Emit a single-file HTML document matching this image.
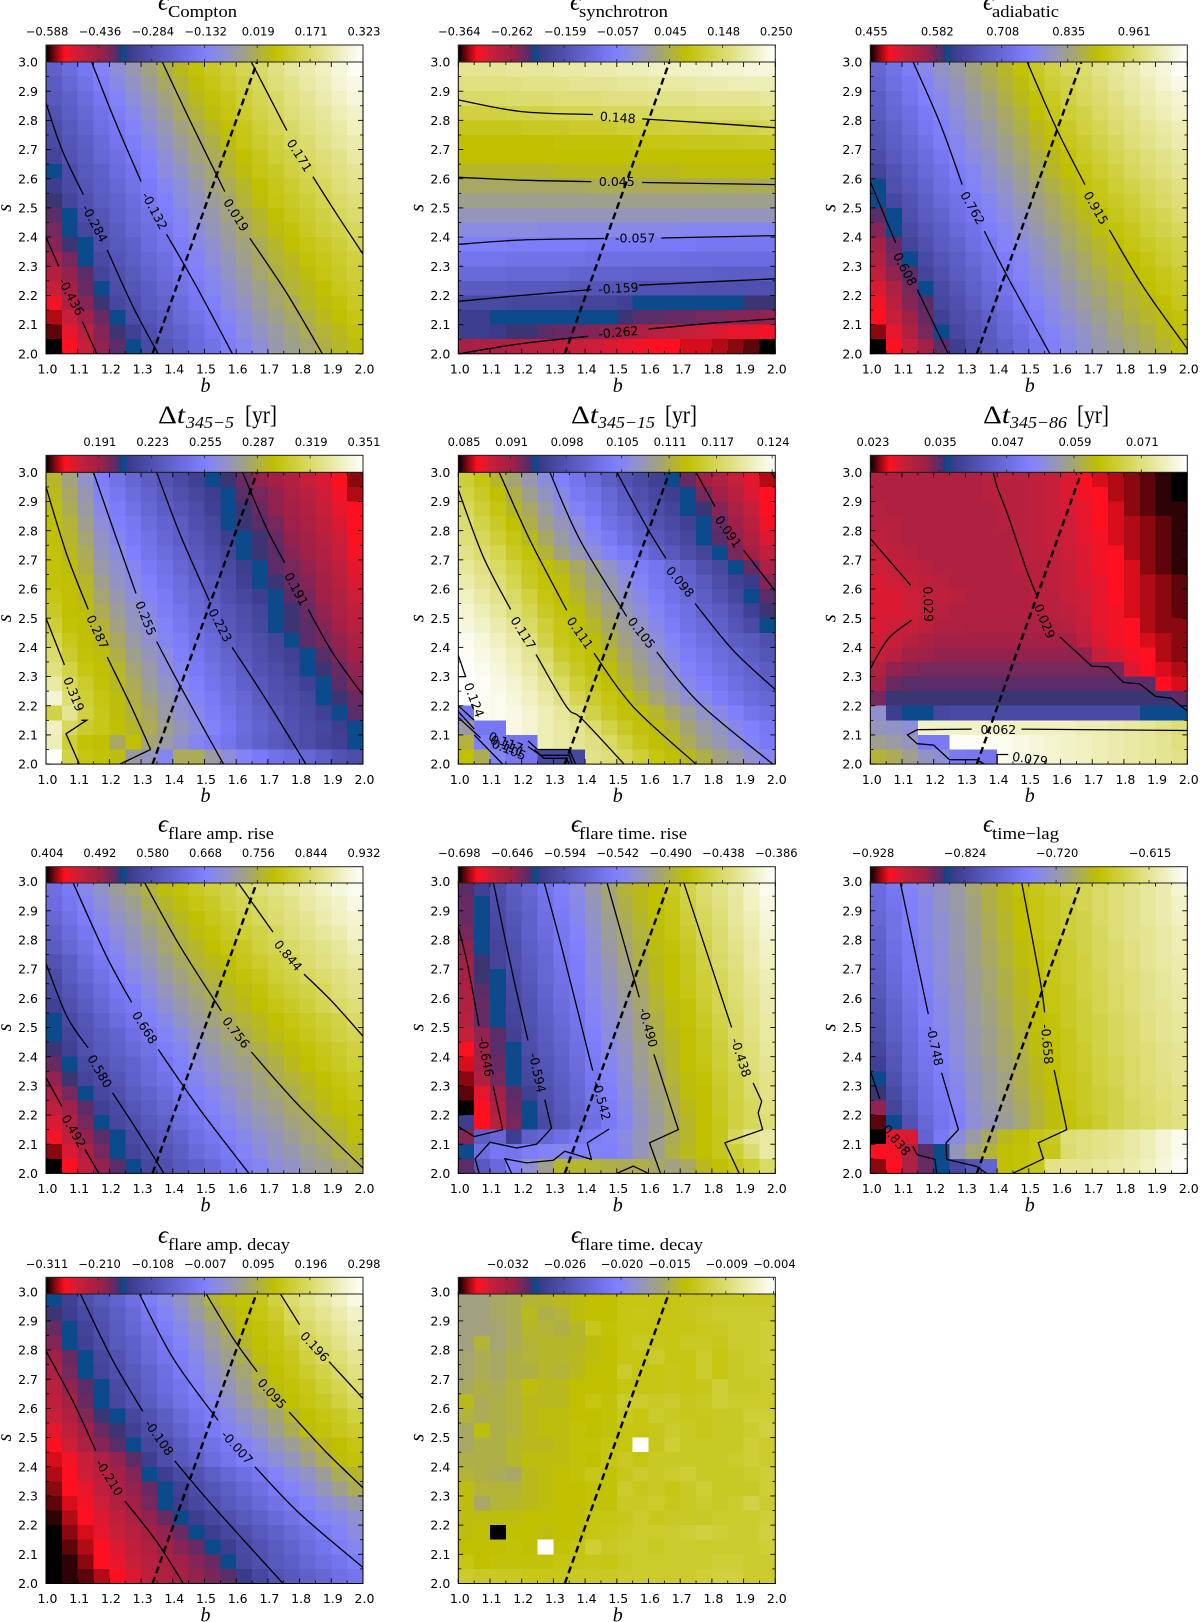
<!DOCTYPE html>
<html lang="en"><head><meta charset="utf-8"><title>Parameter space maps</title>
<style>
html,body{margin:0;padding:0;background:#fff}
svg{display:block}
text{font-family:"DejaVu Sans","Liberation Sans",sans-serif;fill:#000}
.serif{font-family:"Liberation Serif","DejaVu Serif",serif}
</style></head>
<body>
<svg id="chart" xmlns="http://www.w3.org/2000/svg" width="1200" height="1622" viewBox="0 0 1200 1622"><defs id="defs"></defs></svg>
<script>
// ---- shared axis values ----
const bCells=[1.0,1.05,1.1,1.15,1.2,1.25,1.3,1.35,1.4,1.45,1.5,1.55,1.6,1.65,1.7,1.75,1.8,1.85,1.9,1.95];
const sCells=[2.95,2.9,2.85,2.8,2.75,2.7,2.65,2.6,2.55,2.5,2.45,2.4,2.35,2.3,2.25,2.2,2.15,2.1,2.05,2.0];
const xMajorTicks=[1.0,1.1,1.2,1.3,1.4,1.5,1.6,1.7,1.8,1.9,2.0];
const yMajorTicks=[2.0,2.1,2.2,2.3,2.4,2.5,2.6,2.7,2.8,2.9,3.0];
const minorTicksB=[1.05,1.15,1.25,1.35,1.45,1.55,1.65,1.75,1.85,1.95];
const minorTicksS=[2.05,2.15,2.25,2.35,2.45,2.55,2.65,2.75,2.85,2.95];
const dashLineB=[1.336,1.666];
const dashLineS=[2.0,3.0];
const colormapStops=[[0,"#000000"],[0.03,"#8a0810"],[0.06,"#ff1020"],[0.1,"#cc1e38"],[0.14,"#b02040"],[0.17,"#a02048"],[0.22,"#5a2c68"],[0.235,"#2c3a78"],[0.24,"#0c4a8c"],[0.2499,"#0c4a8c"],[0.255,"#383a88"],[0.375,"#5c5cc4"],[0.5,"#8080ff"],[0.56,"#9090d0"],[0.625,"#a0a088"],[0.72,"#c0c000"],[0.86,"#e0e080"],[1,"#ffffff"]];

// ---- cell levels: percent of each panel's colourbar range, top row first ----
const comptonCells=[
[39,43,47,51,55,59,63,67,70,73,76,78,81,83,86,89,91,93,96,99],
[37,41,45,49,53,57,61,65,68,71,74,77,79,82,85,87,90,92,95,97],
[36,39,43,47,51,55,59,63,66,70,73,75,78,81,83,86,88,91,93,96],
[34,38,41,45,49,53,57,61,65,68,71,74,77,80,82,85,87,89,92,94],
[32,36,40,44,47,51,55,59,63,66,69,72,75,78,81,83,86,88,90,93],
[31,35,38,42,46,49,53,57,61,64,67,71,74,77,79,82,84,87,89,91],
[29,34,37,41,44,48,51,55,59,63,66,69,72,75,78,80,83,85,87,90],
[24,32,36,39,43,46,50,54,57,61,64,68,71,74,76,79,81,84,86,88],
[27,31,35,38,41,45,48,52,55,59,63,66,69,72,75,77,80,82,85,87],
[23,29,33,37,40,43,47,50,54,57,61,64,68,71,74,76,78,81,83,85],
[22,24,32,35,39,42,45,49,52,56,59,63,66,69,72,75,77,79,82,84],
[20,24,30,34,37,41,44,47,51,54,58,61,65,68,71,73,76,78,80,82],
[19,23,24,33,36,39,43,46,49,53,56,60,63,66,69,72,74,76,78,81],
[16,20,24,31,35,38,41,44,48,51,55,58,62,65,68,70,73,75,77,79],
[14,18,22,29,33,36,40,43,46,50,53,57,60,64,67,69,71,74,76,78],
[11,16,21,24,32,35,38,41,45,48,52,55,59,62,65,68,70,72,75,77],
[7,14,19,23,30,33,37,40,43,47,50,54,57,61,64,66,69,71,73,76],
[4,11,17,21,24,32,35,38,42,45,48,52,55,59,62,65,67,70,72,74],
[2,8,13,19,23,28,33,37,40,43,47,50,54,57,60,63,66,68,70,73],
[0,6,11,18,22,24,31,35,38,42,45,49,52,55,59,62,64,67,69,71]];
const synchrotronCells=[
[88,88,88,89,89,89,90,90,91,91,92,92,93,93,94,94,95,95,96,96],
[86,86,86,86,87,87,87,88,88,88,89,89,90,90,90,91,91,92,92,92],
[83,83,83,84,84,84,85,85,85,86,86,86,87,87,87,88,88,88,88,89],
[79,79,79,80,80,80,81,81,81,82,82,82,83,83,83,84,84,84,84,85],
[75,75,75,75,76,76,76,77,77,77,78,78,78,79,79,79,80,80,80,81],
[72,72,72,72,72,72,73,73,73,73,73,74,74,74,75,75,75,75,76,76],
[72,72,72,72,72,72,72,72,72,72,72,72,72,72,72,72,72,72,72,72],
[69,69,69,69,69,69,70,70,70,70,70,70,70,70,71,71,71,71,71,71],
[65,65,65,65,65,65,65,65,66,66,66,66,66,66,66,66,66,66,66,66],
[62,62,62,62,62,62,62,62,62,62,62,62,62,62,62,62,62,62,62,62],
[58,58,58,58,58,58,58,58,58,58,58,58,58,58,58,58,58,58,58,58],
[54,54,54,54,54,53,53,53,53,53,53,53,53,53,52,52,52,52,52,52],
[50,50,50,49,49,49,49,49,48,48,48,48,48,48,48,47,47,47,47,47],
[46,46,46,45,45,45,45,45,44,44,44,44,44,44,43,43,43,43,43,43],
[42,42,42,41,41,41,41,40,40,40,40,39,39,39,39,39,38,38,38,38],
[37,37,37,36,36,36,36,35,35,35,35,34,34,34,34,33,33,33,33,33],
[31,31,31,30,30,30,30,29,29,29,28,24,24,24,24,24,24,24,23,23],
[27,27,24,24,24,24,24,24,24,24,23,22,22,21,21,20,20,19,19,18],
[27,27,26,23,23,22,21,20,19,18,16,15,13,12,11,10,9,8,8,7],
[16,15,15,14,13,13,12,11,10,9,8,7,6,6,5,5,4,3,2,0]];
const adiabaticCells=[
[41,45,49,53,57,60,63,66,69,73,76,79,82,84,87,89,91,94,96,99],
[40,44,47,51,55,58,62,65,68,71,75,78,80,83,85,88,90,92,95,97],
[38,42,46,50,53,57,60,63,67,70,73,76,79,82,84,86,89,91,93,95],
[37,41,44,48,52,55,59,62,65,68,72,75,78,80,83,85,87,90,92,94],
[35,39,43,47,50,54,57,60,64,67,70,73,76,79,81,84,86,88,90,92],
[34,38,41,45,49,52,56,59,62,65,69,72,75,77,80,82,85,87,89,91],
[32,36,40,43,47,51,54,57,61,64,67,70,73,76,78,81,83,85,87,89],
[29,34,38,42,45,49,52,56,59,62,66,69,72,74,77,79,82,84,86,88],
[24,33,36,40,44,47,51,54,57,61,64,67,70,73,75,78,80,82,84,86],
[24,30,34,38,42,45,49,52,56,59,62,65,68,71,74,76,78,81,83,85],
[22,24,33,37,40,44,47,51,54,57,61,64,67,70,72,75,77,79,81,84],
[19,24,31,35,38,42,45,49,52,56,59,62,65,68,71,73,75,78,80,82],
[16,21,29,33,37,40,44,47,51,54,57,60,64,67,69,72,74,76,78,80],
[14,20,24,31,35,38,42,45,49,52,56,59,62,65,68,70,72,74,77,79],
[12,18,22,29,33,37,40,44,47,51,54,57,61,64,66,69,71,73,75,77],
[9,15,20,24,31,35,39,42,46,49,53,56,59,62,65,67,69,72,74,76],
[7,13,19,22,30,33,37,41,44,48,51,54,58,61,63,66,68,70,72,75],
[6,11,17,21,28,32,35,39,42,46,49,53,56,59,62,64,67,69,71,73],
[3,8,14,20,24,30,34,37,41,44,48,51,54,57,60,63,65,67,70,72],
[0,6,11,17,22,27,32,36,39,43,46,50,53,56,59,61,64,66,68,71]];
const lag345to5Cells=[
[69,63,57,49,45,41,38,34,31,28,24,23,21,18,16,14,11,9,6,3],
[70,65,59,51,47,43,40,36,33,30,27,24,22,20,18,15,13,10,7,4],
[71,66,60,53,49,45,41,38,35,32,28,24,23,21,18,16,14,11,8,6],
[72,68,62,55,50,47,43,40,37,33,30,24,23,22,20,17,15,12,9,6],
[72,69,64,57,52,48,45,41,38,35,31,27,24,23,21,18,16,13,10,6],
[73,70,66,58,54,50,46,43,40,36,33,29,24,23,22,19,17,14,11,7],
[73,71,67,60,56,52,48,45,41,38,34,31,27,24,22,20,18,15,12,8],
[73,72,69,62,57,53,50,46,43,39,36,32,28,24,23,21,19,16,13,9],
[74,72,70,64,59,55,51,48,44,41,37,33,30,27,24,22,20,17,14,10],
[76,72,71,66,61,57,53,49,46,42,39,35,32,29,24,23,21,18,15,12],
[78,73,72,68,63,58,54,51,47,44,40,36,33,30,24,23,22,19,16,13],
[81,75,72,70,65,60,56,52,49,45,42,38,35,32,29,24,22,20,18,15],
[84,77,73,71,67,62,58,54,50,47,43,40,36,33,30,28,24,22,19,16],
[86,80,74,72,69,64,60,55,52,48,45,41,38,34,32,29,24,23,21,18],
[90,82,77,73,70,66,61,57,53,50,46,43,39,36,33,31,28,24,22,19],
[95,85,78,74,71,67,63,59,55,51,48,44,41,37,34,32,30,24,23,21],
[80,88,79,75,71,68,65,60,56,53,49,46,42,39,36,33,31,28,24,22],
[93,82,77,75,72,69,66,62,58,54,51,47,43,40,37,34,32,30,27,24],
[92,78,73,72,65,72,64,60,56,52,49,46,42,39,36,34,32,29,28,24],
[100,80,74,73,71,60,58,52,66,66,60,55,51,48,45,43,41,38,34,32]];
const lag345to15Cells=[
[78,74,69,64,59,54,50,46,42,38,34,31,28,24,21,17,14,11,8,4],
[80,76,72,67,62,57,53,48,45,41,37,33,30,27,24,20,17,13,9,6],
[82,78,74,69,65,60,55,51,47,43,39,35,32,29,24,23,19,15,11,6],
[84,80,76,72,67,62,58,54,50,45,42,38,34,31,28,24,21,17,13,7],
[85,82,78,74,70,65,60,56,52,48,44,40,36,33,30,24,22,18,14,9],
[87,84,81,76,73,68,63,59,55,51,48,44,40,36,32,29,24,20,16,12],
[89,86,83,79,75,72,69,65,61,57,53,49,46,42,38,33,30,24,21,15],
[91,88,85,81,76,73,71,67,63,59,55,51,47,44,40,36,32,28,26,19],
[93,90,87,83,79,74,72,69,65,61,57,53,49,45,42,38,34,30,24,22],
[95,92,89,85,81,76,73,71,67,63,59,55,51,47,44,40,37,33,28,23],
[96,94,91,88,83,78,74,72,69,65,61,57,53,49,45,42,39,35,31,24],
[98,96,93,90,86,80,75,73,71,67,63,59,55,51,47,44,41,38,36,33],
[99,97,95,92,88,83,77,74,72,69,65,61,57,53,49,46,43,41,38,35],
[100,98,96,93,90,85,80,76,73,71,67,63,59,55,51,48,45,42,40,37],
[100,99,97,95,92,88,83,78,75,72,69,65,61,57,53,50,47,44,41,39],
[100,99,98,96,93,90,86,81,77,74,72,68,64,60,56,53,49,46,43,41],
[47,99,98,97,95,92,89,85,80,76,73,72,69,65,61,57,53,50,46,44],
[60,47,47,97,95,92,90,88,84,80,76,73,71,68,64,60,57,53,50,47],
[68,50,47,46,46,92,90,88,86,83,79,75,72,70,66,62,59,55,51,48],
[72,66,52,47,46,30,30,30,87,85,82,78,74,72,70,67,63,60,56,52]];
const lag345to86Cells=[
[14,14,14,14,14,14,14,13,13,13,12,11,9,6,5,4,3,2,1,0],
[14,14,14,14,14,14,14,13,13,13,12,11,9,7,6,4,3,2,1,0],
[13,14,14,14,14,14,14,14,13,13,12,11,9,8,6,5,3,2,1,1],
[13,13,14,14,14,14,14,14,13,13,12,11,10,8,6,5,4,3,2,1],
[12,13,14,14,14,14,14,14,14,13,12,11,10,8,7,5,4,3,2,1],
[11,12,13,14,14,14,14,14,14,13,12,12,10,9,7,6,4,3,2,1],
[10,11,12,13,14,14,14,14,14,13,13,12,11,9,7,6,5,3,2,1],
[9,10,11,12,13,14,14,14,14,14,13,12,11,9,8,6,5,4,3,2],
[9,9,10,11,12,13,14,14,14,14,13,13,11,10,8,6,5,4,3,2],
[9,9,10,11,13,14,14,14,14,14,14,13,12,10,8,7,5,4,3,2],
[9,10,11,12,14,14,15,15,15,15,15,14,13,11,8,7,6,4,3,3],
[10,11,13,15,16,16,16,16,16,16,16,16,16,12,9,7,6,5,4,3],
[11,13,16,17,18,18,18,18,18,18,18,18,18,18,11,9,7,6,4,3],
[14,18,19,20,20,20,20,20,20,20,20,20,20,20,20,20,9,6,5,4],
[16,21,22,22,22,22,22,22,22,22,22,22,22,22,22,22,22,22,6,5],
[20,23,23,23,23,23,23,23,23,23,23,23,23,23,23,23,23,23,23,22],
[56,27,25,24,30,31,31,31,31,31,31,31,31,31,31,31,31,24,24,24],
[58,57,55,94,94,94,94,94,94,93,93,93,93,92,92,91,90,89,87,85],
[62,60,58,48,48,99,99,98,98,97,96,95,94,93,92,91,90,89,88,86],
[68,66,62,57,55,48,47,46,98,97,96,95,94,93,92,91,90,89,88,87]];
const ampRiseCells=[
[44,48,53,57,61,64,68,71,73,76,78,80,83,85,87,89,91,94,96,98],
[43,47,51,55,59,62,66,69,71,74,76,79,81,83,85,87,90,92,94,97],
[41,45,49,53,57,60,64,67,70,72,75,77,80,82,84,86,88,91,93,95],
[39,43,47,51,55,58,62,65,68,71,73,76,78,80,82,85,87,89,91,94],
[37,41,45,49,53,57,60,64,67,69,72,74,76,79,81,83,85,87,89,92],
[34,38,43,47,51,55,58,62,65,68,70,72,75,77,79,81,84,86,88,90],
[32,37,41,45,49,53,56,60,63,66,68,71,73,75,78,80,82,84,86,88],
[31,35,39,43,47,50,54,58,61,64,67,69,71,73,76,78,80,82,85,87],
[28,33,37,41,45,48,52,56,59,62,65,68,70,72,74,76,78,81,83,85],
[24,31,35,39,43,46,50,53,57,60,63,66,68,70,72,74,76,78,80,83],
[24,29,34,37,40,44,47,51,54,58,61,64,66,69,71,73,75,77,79,81],
[23,28,33,36,39,42,45,49,52,56,59,62,64,67,69,71,73,75,77,79],
[21,24,31,34,37,40,43,47,50,54,57,60,62,65,67,70,72,74,76,78],
[18,23,29,32,35,39,42,45,49,52,55,58,60,63,66,68,70,72,74,76],
[15,20,24,30,33,37,40,43,47,50,53,56,59,62,64,66,69,71,73,75],
[12,17,22,28,31,35,38,41,45,48,51,54,57,60,62,65,67,70,72,73],
[9,14,20,24,30,33,36,39,43,46,49,52,55,58,60,63,65,68,70,72],
[7,12,18,22,24,31,34,37,40,44,47,50,53,56,58,61,64,66,68,71],
[3,9,15,20,24,29,32,35,38,42,45,48,51,54,57,59,62,64,67,69],
[0,6,12,18,22,24,30,33,36,39,42,46,49,52,55,57,60,62,64,66]];
const timeRiseCells=[
[22,28,33,37,41,46,50,54,59,64,68,70,72,76,80,84,87,90,94,98],
[21,24,32,36,40,45,49,53,58,63,67,70,72,75,79,83,86,89,93,97],
[21,24,31,35,39,44,48,52,57,62,66,69,72,74,78,82,85,89,92,96],
[20,24,30,34,39,43,47,51,56,61,65,68,71,74,77,81,84,88,91,95],
[18,24,29,33,38,42,47,50,55,60,64,67,71,73,76,80,84,87,90,94],
[17,23,29,33,37,41,46,49,54,59,63,67,70,72,75,79,83,86,90,93],
[16,23,24,32,36,41,45,49,54,58,62,66,70,72,75,78,82,85,89,92],
[15,22,24,31,35,40,44,48,53,57,61,65,69,72,74,78,81,85,88,91],
[14,21,24,30,34,39,43,47,52,56,60,64,68,71,73,77,81,84,87,91],
[13,21,24,29,34,38,42,46,51,55,59,63,67,71,73,76,80,83,87,90],
[11,18,22,28,33,37,41,45,50,54,58,63,67,70,72,75,79,83,86,90],
[6,17,22,24,32,36,40,44,49,53,57,62,66,69,72,75,78,82,85,89],
[5,16,21,24,31,35,39,43,48,52,56,61,65,69,72,74,78,81,85,88],
[3,14,20,24,30,34,38,42,47,51,55,60,64,68,71,73,77,80,84,87],
[2,8,17,22,28,33,37,41,46,50,54,59,63,67,71,72,76,80,83,87],
[0,6,15,21,24,32,36,40,45,49,53,58,62,66,70,72,76,79,82,86],
[27,6,13,20,24,31,35,39,44,48,52,57,61,65,69,72,75,79,82,85],
[19,38,41,27,39,41,44,47,49,51,54,58,62,66,69,72,75,82,88,90],
[24,43,47,46,49,51,52,50,51,50,53,58,62,67,70,72,75,78,84,90],
[22,36,42,50,56,62,69,69,68,67,66,67,65,63,65,70,72,75,78,83]];
const timeLagCells=[
[43,47,51,54,57,60,64,67,70,73,75,77,79,81,83,85,87,89,91,95],
[42,46,50,53,57,60,63,67,70,72,74,76,78,81,83,85,87,89,91,94],
[41,45,50,53,56,59,63,66,69,72,74,76,78,80,83,85,87,89,91,93],
[40,45,49,53,56,59,62,66,69,72,74,76,78,80,82,85,87,88,90,92],
[39,44,48,52,55,59,62,65,68,71,73,75,77,80,82,84,86,88,90,92],
[38,43,48,52,55,58,62,65,68,71,73,75,77,79,82,84,86,88,90,91],
[37,42,47,51,55,58,61,64,67,70,72,75,77,79,81,84,85,87,89,91],
[36,41,46,50,54,57,61,64,67,70,72,74,76,79,81,83,85,87,89,90],
[34,40,45,49,53,57,60,63,66,69,72,74,76,78,81,83,85,87,88,90],
[33,39,44,49,53,56,60,63,66,69,72,73,76,78,80,82,84,86,88,89],
[32,38,43,48,52,56,59,62,65,68,71,73,75,78,80,82,84,86,88,89],
[30,36,42,47,51,55,59,62,65,68,71,73,75,77,80,82,84,85,87,88],
[28,35,41,46,50,54,58,61,64,67,70,72,75,77,79,81,83,85,87,88],
[24,33,40,45,49,53,57,60,63,67,70,72,74,76,79,81,83,85,86,88],
[23,31,38,44,48,52,57,60,63,66,69,72,74,76,78,80,83,84,86,87],
[18,29,36,43,47,51,56,59,62,65,68,71,73,76,78,80,82,84,85,87],
[2,24,34,41,46,50,55,58,61,64,68,71,73,75,77,80,82,83,85,86],
[0,8,9,40,48,54,60,65,70,72,74,76,85,86,87,88,90,92,95,98],
[6,7,14,22,24,58,64,68,72,73,74,75,84,86,87,88,90,92,95,98],
[3,6,15,21,24,30,35,40,72,73,75,87,88,88,89,90,91,93,96,99]];
const ampDecayCells=[
[25,28,33,36,40,44,49,53,57,62,68,71,73,75,79,84,87,90,93,97],
[23,27,31,34,38,42,47,51,55,60,65,69,72,74,77,82,85,88,91,94],
[21,24,29,33,37,41,45,49,53,57,62,67,71,73,75,80,83,86,89,92],
[19,24,28,32,36,39,43,47,51,55,60,64,69,72,74,77,81,84,87,90],
[17,21,24,30,34,38,42,46,49,53,58,62,66,71,73,75,79,82,85,88],
[15,20,24,29,33,36,40,44,48,52,56,60,64,68,72,74,77,80,83,86],
[13,18,22,24,31,35,39,43,46,50,54,58,62,66,71,73,75,78,81,84],
[12,16,21,24,30,34,37,41,45,48,52,56,60,64,69,72,74,76,79,82],
[11,14,19,23,24,30,34,38,42,46,49,53,57,60,64,69,72,74,76,79],
[8,12,17,21,23,28,32,36,40,44,48,51,54,58,62,66,71,73,75,77],
[6,10,15,19,22,24,30,33,37,41,45,48,51,54,58,61,65,70,72,74],
[5,7,11,15,18,22,27,32,36,39,43,46,49,52,55,58,62,66,71,73],
[4,6,10,13,16,19,24,27,31,34,38,41,44,47,51,54,57,61,66,69],
[3,6,8,12,15,18,21,24,28,32,35,38,41,44,48,51,54,58,62,66],
[2,5,7,10,14,17,20,24,27,30,33,36,39,42,45,48,51,54,57,60],
[1,4,6,9,12,15,18,21,24,27,30,33,36,39,42,45,48,51,53,56],
[0,3,5,8,11,13,16,18,21,24,27,30,33,36,39,42,45,48,51,54],
[0,2,4,6,9,12,14,17,19,21,24,27,31,34,37,40,43,46,49,52],
[0,1,3,6,8,11,13,15,17,19,21,24,30,33,36,38,41,44,46,49],
[0,1,2,4,6,9,12,14,16,18,20,22,26,30,34,36,39,41,44,46]];
const timeDecayCells=[
[63,63,65,66,68,69,70,71,72,72,74,74,74,74,75,75,76,76,76,76],
[63,63,65,66,70,67,68,71,72,72,74,75,74,74,75,76,77,77,77,77],
[63,63,64,66,69,68,67,69,75,73,74,74,74,74,74,75,76,77,77,78],
[63,68,64,66,68,69,69,69,71,72,74,76,75,74,76,76,75,77,77,78],
[64,66,65,67,68,69,69,70,71,72,74,74,77,74,74,77,74,76,77,78],
[64,66,65,67,67,69,68,70,72,72,77,74,74,75,74,77,74,76,77,77],
[65,67,66,68,71,70,70,72,72,72,74,74,74,75,74,75,78,76,76,77],
[70,66,67,68,70,70,70,72,74,73,77,77,76,77,75,76,78,77,77,77],
[68,66,67,68,70,71,71,72,72,73,76,74,77,76,75,75,76,76,78,78],
[65,71,67,68,70,71,71,73,72,73,74,74,75,77,76,75,76,76,77,79],
[65,67,67,69,70,70,71,73,73,74,74,100,75,78,76,76,76,76,78,77],
[67,67,67,69,71,71,71,73,72,74,76,74,76,76,76,76,76,77,78,77],
[68,67,66,65,70,71,72,73,75,73,75,77,76,77,78,76,76,76,77,78],
[71,68,68,68,70,71,72,72,73,73,77,75,76,74,76,78,76,76,76,78],
[71,65,68,69,70,71,72,72,73,73,76,76,77,75,76,77,76,77,80,77],
[71,71,71,71,72,72,72,72,74,74,75,77,75,76,76,76,77,77,77,78],
[71,72,0,72,72,71,72,72,74,75,76,77,77,77,78,79,78,77,77,79],
[72,72,72,73,72,100,73,74,78,76,77,77,76,77,77,77,77,77,77,78],
[74,72,73,73,73,73,74,74,75,74,76,77,77,77,77,77,78,78,77,77],
[77,76,76,76,75,75,75,76,76,76,77,77,77,77,77,78,79,79,77,77]];

// ---- colourbar ranges and tick labels ----
const comptonRange=[-0.588,0.323];
const comptonTicks=["−0.588","−0.436","−0.284","−0.132","0.019","0.171","0.323"];
const synchrotronRange=[-0.364,0.250];
const synchrotronTicks=["−0.364","−0.262","−0.159","−0.057","0.045","0.148","0.250"];
const adiabaticRange=[0.455,1.065];
const adiabaticTicks=["0.455","0.582","0.708","0.835","0.961"];
const lag345to5Range=[0.159,0.351];
const lag345to5Ticks=["0.191","0.223","0.255","0.287","0.319","0.351"];
const lag345to15Range=[0.0844,0.1244];
const lag345to15Ticks=["0.085","0.091","0.098","0.105","0.111","0.117","0.124"];
const lag345to86Range=[0.0227,0.0792];
const lag345to86Ticks=["0.023","0.035","0.047","0.059","0.071"];
const ampRiseRange=[0.404,0.932];
const ampRiseTicks=["0.404","0.492","0.580","0.668","0.756","0.844","0.932"];
const timeRiseRange=[-0.698,-0.386];
const timeRiseTicks=["−0.698","−0.646","−0.594","−0.542","−0.490","−0.438","−0.386"];
const timeLagRange=[-0.93,-0.5717];
const timeLagTicks=["−0.928","−0.824","−0.720","−0.615"];
const ampDecayRange=[-0.311,0.298];
const ampDecayTicks=["−0.311","−0.210","−0.108","−0.007","0.095","0.196","0.298"];
const timeDecayRange=[-0.0371,-0.0038];
const timeDecayTicks=["−0.032","−0.026","−0.020","−0.015","−0.009","−0.004"];

// ---- contour polylines in (b,s) and labels [text,b,s,angle] ----
const comptonLines=[
[[1,2.4],[1.04,2.3]],[[1.115,2.11],[1.16,2]],
[[1,2.86],[1.05,2.7],[1.118,2.545]],[[1.193,2.356],[1.275,2.16],[1.354,2]],
[[1.144,3],[1.217,2.8],[1.3,2.59]],[[1.38,2.41],[1.475,2.23],[1.588,2]],
[[1.367,3],[1.454,2.8],[1.564,2.556]],[[1.643,2.396],[1.758,2.21],[1.872,2]],
[[1.648,3],[1.76,2.765]],[[1.842,2.607],[1.916,2.48],[2,2.342]]];
const comptonLabels=[["-0.436",1.08,2.196,62],["-0.284",1.154,2.447,62],["-0.132",1.343,2.49,62],["0.019",1.6,2.476,58],["0.171",1.8,2.68,58]];
const synchrotronLines=[
[[1,2.87],[1.2,2.83],[1.425,2.82]],[[1.58,2.805],[1.8,2.79],[2,2.775]],
[[1,2.605],[1.2,2.595],[1.42,2.59]],[[1.58,2.587],[2,2.58]],
[[1,2.375],[1.2,2.39],[1.46,2.395]],[[1.64,2.397],[2,2.405]],
[[1,2.18],[1.2,2.2],[1.42,2.22]],[[1.57,2.235],[1.8,2.247],[2,2.257]],
[[1,2],[1.2,2.035],[1.41,2.06]],[[1.6,2.085],[1.8,2.105],[2,2.12]]];
const synchrotronLabels=[["0.148",1.503,2.81,4],["0.045",1.5,2.59,0],["-0.057",1.558,2.396,0],["-0.159",1.505,2.225,-3],["-0.262",1.505,2.074,-5]];
const adiabaticLines=[
[[1,2.59],[1.08,2.38]],[[1.148,2.22],[1.246,2]],
[[1.135,3],[1.22,2.79],[1.29,2.58]],[[1.36,2.42],[1.43,2.27],[1.567,2]],
[[1.495,3],[1.588,2.77],[1.677,2.58]],[[1.754,2.425],[1.861,2.23],[2,2.017]]];
const adiabaticLabels=[["0.608",1.11,2.29,62],["0.762",1.323,2.5,60],["0.915",1.712,2.5,60]];
const lag345to5Lines=[
[[1,2.5],[1.058,2.34]],[[1.112,2.15],[1.128,2.15],[1.063,2.104],[1.105,2]],
[[1,2.95],[1.065,2.72],[1.133,2.53]],[[1.193,2.367],[1.27,2.195],[1.33,2.05]],[[1.33,2.05],[1.233,2]],
[[1.15,3],[1.217,2.79],[1.284,2.585]],[[1.349,2.42],[1.422,2.27],[1.56,2]],
[[1.349,3],[1.422,2.79],[1.515,2.56]],[[1.587,2.4],[1.695,2.22],[1.82,2]],
[[1.62,3],[1.695,2.81],[1.753,2.69]],[[1.827,2.53],[1.905,2.38],[2,2.236]]];
const lag345to5Labels=[["0.319",1.088,2.24,68],["0.287",1.163,2.453,65],["0.255",1.315,2.5,68],["0.223",1.55,2.476,62],["0.191",1.79,2.6,62]];
const lag345to15Lines=[
[[1,2.373],[1.023,2.3],[1,2.3]],
[[1,2.2],[1.05,2.15]],[[1,2.18],[1.05,2.12]],[[1,2.16],[1.07,2.09]],[[1.05,2.1],[1.14,2]],
[[1.22,2.08],[1.25,2.05],[1.35,2.05],[1.37,2]],[[1.22,2.06],[1.26,2.03],[1.35,2.03],[1.36,2]],[[1.24,2.05],[1.27,2.02],[1.34,2.02],[1.35,2]],
[[1,2.94],[1.079,2.71],[1.165,2.53]],[[1.245,2.376],[1.342,2.196],[1.389,2.156],[1.523,2]],
[[1.129,3],[1.226,2.768],[1.342,2.527]],[[1.428,2.38],[1.552,2.196],[1.75,2]],
[[1.289,3],[1.384,2.768],[1.531,2.506]],[[1.626,2.384],[1.762,2.207],[1.992,2]],
[[1.5,3],[1.594,2.813],[1.655,2.705]],[[1.747,2.55],[1.867,2.39],[2,2.255]],
[[1.75,3],[1.81,2.882]],[[1.9,2.733],[2,2.593]],[[1.988,3],[2,2.977]]];
const lag345to15Labels=[["0.124",1.05,2.22,70],["0.117",1.15,2.075,22],["0.111",1.155,2.062,24],["0.105",1.16,2.05,22],["0.117",1.205,2.45,58],["0.111",1.384,2.45,55],["0.105",1.578,2.45,52],["0.098",1.7,2.625,50],["0.091",1.852,2.797,55]];
const lag345to86Lines=[
[[1,2.773],[1.127,2.613]],[[1.13,2.493],[1.057,2.43],[1,2.327]],
[[1.388,3],[1.4,2.95],[1.435,2.85],[1.493,2.665],[1.527,2.573]],
[[1.598,2.436],[1.65,2.384],[1.698,2.336],[1.75,2.333],[1.798,2.28],[1.85,2.275],[1.9,2.232],[1.95,2.226],[2,2.182]],
[[1.32,2.12],[1.148,2.118],[1.117,2.1],[1.148,2.07],[1.2,2.065],[1.25,2.015],[1.335,2.015],[1.36,2]],
[[1.477,2.12],[2,2.115]],[[1.4,2],[1.4,2.033],[1.435,2.033]]];
const lag345to86Labels=[["0.029",1.183,2.548,88],["0.029",1.55,2.49,68],["0.062",1.404,2.118,0],["0.079",1.504,2.018,8]];
const ampRiseLines=[
[[1,2.328],[1.05,2.23]],[[1.123,2.082],[1.167,2]],
[[1,2.72],[1.065,2.54],[1.133,2.43]],[[1.21,2.276],[1.296,2.133],[1.372,2]],
[[1.084,3],[1.19,2.746],[1.27,2.586]],[[1.354,2.425],[1.485,2.22],[1.64,2]],
[[1.309,3],[1.422,2.78],[1.553,2.557]],[[1.648,2.416],[1.8,2.23],[2,2.018]],
[[1.603,3],[1.716,2.827]],[[1.814,2.683],[1.905,2.586],[2,2.47]]];
const ampRiseLabels=[["0.492",1.088,2.145,60],["0.580",1.17,2.35,60],["0.668",1.312,2.5,58],["0.756",1.6,2.483,52],["0.844",1.764,2.747,50]];
const timeRiseLines=[
[[1,2.844],[1.03,2.712],[1.065,2.506]],[[1.11,2.3],[1.14,2.15],[1.05,2.126],[1,2.16]],
[[1.11,3],[1.17,2.69],[1.22,2.455]],[[1.273,2.253],[1.294,2.155],[1.247,2.1],[1.184,2.087],[1.1,2.107],[1.053,2.05],[1.066,2]],
[[1.27,3],[1.33,2.758],[1.424,2.352]],[[1.476,2.152],[1.407,2.105],[1.42,2.048],[1.384,2.06],[1.336,2.076],[1.3,2.045],[1.215,2.036],[1.147,2.05],[1.168,2]],
[[1.468,3],[1.571,2.603]],[[1.617,2.408],[1.694,2.15],[1.603,2.105],[1.638,2]],
[[1.5,2],[1.552,2.025],[1.6,2]],
[[1.71,3],[1.862,2.5]],[[1.93,2.31],[1.957,2.247],[1.946,2.207],[1.96,2.15],[1.841,2.105],[1.886,2]]];
const timeRiseLabels=[["-0.646",1.087,2.4,80],["-0.594",1.25,2.345,78],["-0.542",1.452,2.25,75],["-0.490",1.6,2.5,75],["-0.438",1.892,2.397,72]];
const timeLagLines=[
[[1.094,3],[1.183,2.546]],[[1.225,2.345],[1.278,2.15],[1.239,2.105],[1.241,2.048],[1.335,2.024],[1.367,2]],
[[1.477,3],[1.535,2.666],[1.55,2.552]],[[1.58,2.354],[1.62,2.15],[1.53,2.105],[1.546,2.05],[1.449,2]],
[[1,2.352],[1.03,2.255]],[[1.134,2.093],[1.148,2.064],[1.204,2.048],[1.209,2]]];
const timeLagLabels=[["-0.748",1.204,2.437,78],["-0.658",1.558,2.443,85],["-0.838",1.078,2.12,50]];
const ampDecayLines=[
[[1,2.797],[1.086,2.622],[1.157,2.455]],[[1.249,2.282],[1.349,2.144],[1.433,2]],
[[1.105,3],[1.207,2.772],[1.305,2.59]],[[1.406,2.42],[1.527,2.265],[1.748,2]],
[[1.291,3],[1.401,2.772],[1.543,2.559]],[[1.659,2.4],[1.8,2.24],[2,2.055]],
[[1.501,3],[1.59,2.841],[1.666,2.726]],[[1.767,2.588],[1.885,2.449],[2,2.328]],
[[1.735,3],[1.8,2.887]],[[1.893,2.76],[2,2.634]]];
const ampDecayLabels=[["-0.210",1.2,2.363,58],["-0.108",1.357,2.5,55],["-0.007",1.603,2.467,48],["0.095",1.713,2.651,48],["0.196",1.848,2.812,47]];
const timeDecayLines=[];
const timeDecayLabels=[];

// ---- panel layout ----
const columnLeft=[46,458.3,870.3];
const rowTop=[62,472.3,881.6,1291.7];
const barTop=[45,455.3,866.7,1277.3];
const barBottom=[62,472.3,883,1294];
const titleBase=[10,423,832,1243];
const axisW=317, axisH=291.8;
const panels=[
{key:"compton",r:0,c:0,cells:comptonCells,range:comptonRange,ticks:comptonTicks,lines:comptonLines,labels:comptonLabels,sub:"Compton",mx:158,sx:168,sw:69},
{key:"synchrotron",r:0,c:1,cells:synchrotronCells,range:synchrotronRange,ticks:synchrotronTicks,lines:synchrotronLines,labels:synchrotronLabels,sub:"synchrotron",mx:570,sx:579,sw:89},
{key:"adiabatic",r:0,c:2,cells:adiabaticCells,range:adiabaticRange,ticks:adiabaticTicks,lines:adiabaticLines,labels:adiabaticLabels,sub:"adiabatic",mx:983,sx:992,sw:67},
{key:"delta-t-345-5",r:1,c:0,cells:lag345to5Cells,range:lag345to5Range,ticks:lag345to5Ticks,lines:lag345to5Lines,labels:lag345to5Labels,sub:"345−5",dt:true,mx:158,sx:186,sw:48,yx:245,yw:32},
{key:"delta-t-345-15",r:1,c:1,cells:lag345to15Cells,range:lag345to15Range,ticks:lag345to15Ticks,lines:lag345to15Lines,labels:lag345to15Labels,sub:"345−15",dt:true,mx:571,sx:598,sw:57,yx:665,yw:32},
{key:"delta-t-345-86",r:1,c:2,cells:lag345to86Cells,range:lag345to86Range,ticks:lag345to86Ticks,lines:lag345to86Lines,labels:lag345to86Labels,sub:"345−86",dt:true,mx:983,sx:1010,sw:57,yx:1077,yw:32},
{key:"flare-amp-rise",r:2,c:0,cells:ampRiseCells,range:ampRiseRange,ticks:ampRiseTicks,lines:ampRiseLines,labels:ampRiseLabels,sub:"flare amp. rise",mx:158,sx:168,sw:106},
{key:"flare-time-rise",r:2,c:1,cells:timeRiseCells,range:timeRiseRange,ticks:timeRiseTicks,lines:timeRiseLines,labels:timeRiseLabels,sub:"flare time. rise",mx:571,sx:579,sw:108},
{key:"time-lag",r:2,c:2,cells:timeLagCells,range:timeLagRange,ticks:timeLagTicks,lines:timeLagLines,labels:timeLagLabels,sub:"time−lag",mx:983,sx:992,sw:67},
{key:"flare-amp-decay",r:3,c:0,cells:ampDecayCells,range:ampDecayRange,ticks:ampDecayTicks,lines:ampDecayLines,labels:ampDecayLabels,sub:"flare amp. decay",mx:158,sx:168,sw:122},
{key:"flare-time-decay",r:3,c:1,cells:timeDecayCells,range:timeDecayRange,ticks:timeDecayTicks,lines:timeDecayLines,labels:timeDecayLabels,sub:"flare time. decay",mx:571,sx:579,sw:124}
];

const NS="http://www.w3.org/2000/svg";
const svg=document.getElementById('chart');
const defs=document.getElementById('defs');
function add(parent,tag,attrs,text){
  const el=document.createElementNS(NS,tag);
  for(const k in attrs){el.setAttribute(k,attrs[k]);}
  if(text!==undefined){el.textContent=text;}
  parent.appendChild(el);
  return el;
}
function hexRgb(h){return [parseInt(h.slice(1,3),16),parseInt(h.slice(3,5),16),parseInt(h.slice(5,7),16)];}
function colorOf(level){
  const t=Math.max(0,Math.min(1,level/100));
  for(let i=1;i<colormapStops.length;i++){
    const a=colormapStops[i-1],b=colormapStops[i];
    if(t<=b[0]){
      const f=(t-a[0])/(b[0]-a[0]);
      const ca=hexRgb(a[1]),cb=hexRgb(b[1]);
      return 'rgb('+ca.map((v,j)=>Math.round(v+(cb[j]-v)*f)).join(',')+')';
    }
  }
  return '#ffffff';
}
// Smooth gently bending contours; keep jagged ones as straight segments.
function contourPath(pts){
  let sharp=pts.length<3;
  for(let i=1;i<pts.length-1&&!sharp;i++){
    const a=Math.atan2(pts[i][1]-pts[i-1][1],pts[i][0]-pts[i-1][0]);
    const b=Math.atan2(pts[i+1][1]-pts[i][1],pts[i+1][0]-pts[i][0]);
    let d=Math.abs(a-b);
    if(d>Math.PI){d=2*Math.PI-d;}
    if(d>0.6){sharp=true;}
  }
  const fx=function(v){return v.toFixed(1);};
  let out='M'+fx(pts[0][0])+' '+fx(pts[0][1]);
  for(let i=0;i<pts.length-1;i++){
    if(sharp){out+=' L'+fx(pts[i+1][0])+' '+fx(pts[i+1][1]);continue;}
    const p0=pts[Math.max(0,i-1)],p1=pts[i],p2=pts[i+1],p3=pts[Math.min(pts.length-1,i+2)];
    out+=' C'+fx(p1[0]+(p2[0]-p0[0])/6)+' '+fx(p1[1]+(p2[1]-p0[1])/6)+' '+fx(p2[0]-(p3[0]-p1[0])/6)+' '+fx(p2[1]-(p3[1]-p1[1])/6)+' '+fx(p2[0])+' '+fx(p2[1]);
  }
  return out;
}
const grad=add(defs,'linearGradient',{id:'cmap',x1:0,y1:0,x2:1,y2:0});
colormapStops.forEach(function(st){add(grad,'stop',{offset:st[0],'stop-color':st[1]});});

panels.forEach(function(p){
  const x0=columnLeft[p.c], y0=rowTop[p.r], bot=y0+axisH;
  const sx=function(b){return x0+(b-1)*axisW;};
  const sy=function(s){return y0+(3-s)*axisH;};
  const cbx=function(v){return x0+(v-p.range[0])/(p.range[1]-p.range[0])*axisW;};

  const g=add(svg,'g',{});
  
  

  const clip=add(defs,'clipPath',{id:'clip-'+p.key});
  add(clip,'rect',{x:x0,y:y0,width:axisW,height:axisH});

  const plot=add(g,'g',{'clip-path':'url(#clip-'+p.key+')'});
  
  
  p.cells.forEach(function(row,ri){
    row.forEach(function(level,ci){
      const b=bCells[ci], s=sCells[ri];
      const cell=add(plot,'rect',{x:sx(b).toFixed(2),y:sy(s+0.05).toFixed(2),width:(sx(b+0.05)-sx(b)+0.6).toFixed(2),height:(sy(s)-sy(s+0.05)+0.6).toFixed(2),fill:colorOf(level),'shape-rendering':'crispEdges'});
      
      
    });
  });
  p.lines.forEach(function(pts){
    const line=add(plot,'path',{d:contourPath(pts.map(function(q){return [sx(q[0]),sy(q[1])];})),fill:'none',stroke:'#000','stroke-width':1.3});
    
    
  });
  const dash=add(plot,'line',{x1:sx(dashLineB[0]),y1:sy(dashLineS[0]),x2:sx(dashLineB[1]),y2:sy(dashLineS[1]),stroke:'#000','stroke-width':2.4,'stroke-dasharray':'7 4'});
  
  
  p.labels.forEach(function(l){
    const X=sx(l[1]),Y=sy(l[2]);
    const lab=add(plot,'text',{x:X,y:Y,'font-size':12.5,'text-anchor':'middle','dominant-baseline':'central',transform:'rotate('+l[3]+' '+X+' '+Y+')'},l[0]);
    
    
  });

  // axis ticks
  xMajorTicks.forEach(function(b){
    [[bot,bot-5],[y0,y0+5]].forEach(function(e){
      const t=add(g,'line',{x1:sx(b),x2:sx(b),y1:e[0],y2:e[1],stroke:'#000','stroke-width':0.9});
      
      
    });
    const lb=add(g,'text',{x:sx(b)+1.5,y:bot+19.7,'font-size':12.5,'text-anchor':'middle'},b.toFixed(1));
    
    
  });
  yMajorTicks.forEach(function(s){
    [[x0,x0+5],[x0+axisW,x0+axisW-5]].forEach(function(e){
      const t=add(g,'line',{y1:sy(s),y2:sy(s),x1:e[0],x2:e[1],stroke:'#000','stroke-width':0.9});
      
      
    });
    const lb=add(g,'text',{x:x0-8,y:sy(s)+4.6,'font-size':12.5,'text-anchor':'end'},s.toFixed(1));
    
    
  });
  minorTicksB.forEach(function(b){
    [[bot,bot-3],[y0,y0+3]].forEach(function(e){
      const t=add(g,'line',{x1:sx(b),x2:sx(b),y1:e[0],y2:e[1],stroke:'#000','stroke-width':0.8});
      
      
    });
  });
  minorTicksS.forEach(function(s){
    [[x0,x0+3],[x0+axisW,x0+axisW-3]].forEach(function(e){
      const t=add(g,'line',{y1:sy(s),y2:sy(s),x1:e[0],x2:e[1],stroke:'#000','stroke-width':0.8});
      
      
    });
  });
  const frame=add(g,'rect',{x:x0,y:y0,width:axisW,height:axisH,fill:'none',stroke:'#000','stroke-width':1});
  
  

  // axis titles
  const xt=add(g,'text',{x:x0+axisW/2+1,y:bot+38,'font-size':20,'font-style':'italic','text-anchor':'middle','class':'serif'},'b');
  
  
  const yBase=x0-35, yMid=y0+axisH/2;
  const yt=add(g,'text',{x:yBase,y:yMid,'font-size':20,'font-style':'italic','text-anchor':'middle','class':'serif',transform:'rotate(-90 '+yBase+' '+yMid+')'},'s');
  
  

  // colourbar (sits over the top edge of the axes)
  const cbTop=barTop[p.r], cbBot=barBottom[p.r];
  const bar=add(g,'rect',{x:x0,y:cbTop,width:axisW,height:cbBot-cbTop,fill:'url(#cmap)',stroke:'#222','stroke-width':1});
  
  
  p.ticks.forEach(function(label){
    const v=parseFloat(label.replace('−','-'));
    const X=cbx(v);
    const m1=add(g,'line',{x1:X,x2:X,y1:cbTop,y2:cbTop+3,stroke:'#222','stroke-width':0.8});
    
    
    const m2=add(g,'line',{x1:X,x2:X,y1:cbBot,y2:cbBot-3,stroke:'#222','stroke-width':0.8});
    
    
    const tl=add(g,'text',{x:X+1,y:cbTop-9.5,'font-size':11.5,'text-anchor':'middle'},label);
    
    
  });

  // title
  const base=titleBase[p.r];
  const title=add(g,'g',{});
  
  
  if(p.dt){
    const mt=add(title,'text',{x:p.mx,y:base,'font-size':25,'class':'serif',textLength:27,lengthAdjust:'spacingAndGlyphs'});
    add(mt,'tspan',{},'Δ');
    add(mt,'tspan',{'font-style':'italic'},'t');
    add(title,'text',{x:p.sx,y:base+5,'font-size':17,'font-style':'italic','class':'serif',textLength:p.sw,lengthAdjust:'spacingAndGlyphs'},p.sub);
    add(title,'text',{x:p.yx,y:base,'font-size':25,'class':'serif',textLength:p.yw,lengthAdjust:'spacingAndGlyphs'},'[yr]');
  } else {
    add(title,'text',{x:p.mx,y:base,'font-size':25,'font-style':'italic','class':'serif'},'ϵ');
    add(title,'text',{x:p.sx,y:base+7,'font-size':17,'class':'serif',textLength:p.sw,lengthAdjust:'spacingAndGlyphs'},p.sub);
  }
});
</script>
</body></html>
